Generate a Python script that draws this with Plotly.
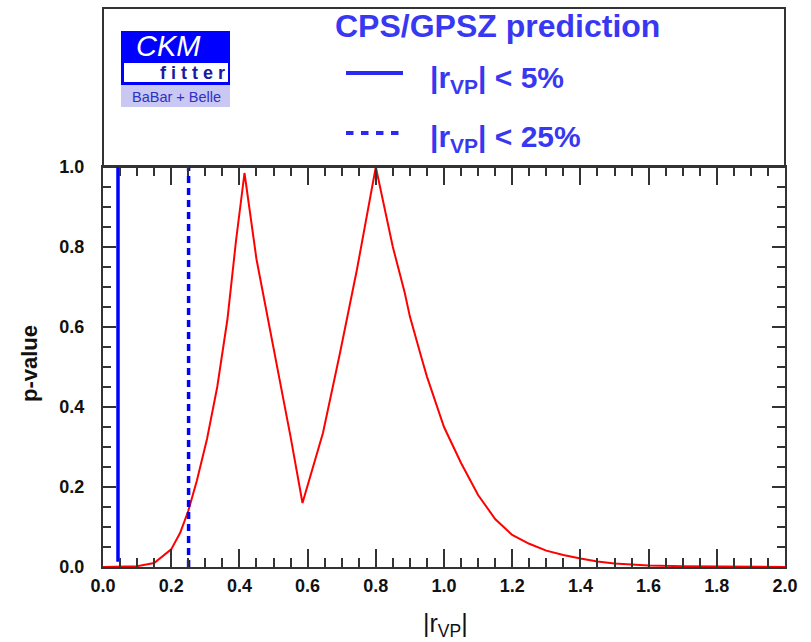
import plotly.graph_objects as go

# ---- data ----
r_vals = [0.0, 0.05, 0.10, 0.15, 0.20, 0.226, 0.25, 0.275, 0.305, 0.335, 0.365, 0.39, 0.415,
          0.45, 0.50, 0.55, 0.585, 0.645, 0.695, 0.745, 0.80,
          0.85, 0.885, 0.90, 0.935, 0.95, 1.0, 1.05, 1.10, 1.15, 1.20, 1.25, 1.30, 1.35,
          1.40, 1.45, 1.50, 1.60, 1.70, 1.80, 1.90, 2.0]
p_vals = [0.0, 0.0005, 0.002, 0.01, 0.044, 0.085, 0.14, 0.215, 0.32, 0.45, 0.62, 0.815, 0.985,
          0.77, 0.55, 0.326, 0.16, 0.335, 0.535, 0.745, 1.0,
          0.80, 0.685, 0.626, 0.52, 0.476, 0.35, 0.26, 0.18, 0.12, 0.08, 0.058, 0.041, 0.03,
          0.021, 0.014, 0.009, 0.004, 0.002, 0.001, 0.0006, 0.0003]

bound5_x = [0.044, 0.044]
bound5_y = [0.013, 1.0]
bound25_x = [0.251, 0.251]
bound25_y = [0.0, 1.0]

x_ticks = [0.0, 0.2, 0.4, 0.6, 0.8, 1.0, 1.2, 1.4, 1.6, 1.8, 2.0]
y_ticks = [0.0, 0.2, 0.4, 0.6, 0.8, 1.0]

title_text = "CPS/GPSZ prediction"
leg1_text = "|r<sub>VP</sub>| < 5%"
leg2_text = "|r<sub>VP</sub>| < 25%"

# ---- layout helpers (pixel -> paper) ----
W, H = 811, 642
L, R, T, B = 103, 26, 167, 75
PW, PH = W - L - R, H - T - B


def px(x):
    return (x - L) / PW


def py(y):
    return (H - B - y) / PH


FONT = "Liberation Sans, Arial, sans-serif"
AX = "#333333"
TXT_BLUE = "#3838f2"

fig = go.Figure()
fig.add_trace(go.Scatter(x=r_vals, y=p_vals, mode="lines",
                         line=dict(color="#ff0000", width=2), showlegend=False))
fig.add_trace(go.Scatter(x=bound5_x, y=bound5_y, mode="lines",
                         line=dict(color="#0000ff", width=3.5), showlegend=False))
fig.add_trace(go.Scatter(x=bound25_x, y=bound25_y, mode="lines",
                         line=dict(color="#0000ff", width=3.5, dash="7px,5px"), showlegend=False))

axis_common = dict(showgrid=False, zeroline=False, showline=True, linecolor=AX, linewidth=2,
                   mirror="allticks", ticks="inside", tickcolor=AX, tickwidth=2,
                   tickformat=".1f",
                   tickfont=dict(family=FONT, size=18, color="#111111", weight="bold"))

fig.update_xaxes(range=[0, 2], tickvals=x_ticks, ticklen=18,
                 minor=dict(dtick=0.05, ticks="inside", ticklen=9, tickcolor=AX, tickwidth=2),
                 ticklabelstandoff=1, **axis_common)
fig.update_yaxes(range=[0, 1], tickvals=y_ticks, ticklen=13,
                 minor=dict(dtick=0.05, ticks="inside", ticklen=8, tickcolor=AX, tickwidth=2),
                 ticklabelstandoff=13, **axis_common)

shapes = []
# upper frame box
shapes.append(dict(type="rect", xref="paper", yref="paper", x0=0, x1=1, y0=1, y1=py(8),
                   line=dict(color=AX, width=2), fillcolor="rgba(0,0,0,0)", layer="below"))
# logo
shapes.append(dict(type="rect", xref="paper", yref="paper", x0=px(121), x1=px(230), y0=py(85), y1=py(31),
                   line=dict(width=0), fillcolor="#0000ff"))
shapes.append(dict(type="rect", xref="paper", yref="paper", x0=px(124), x1=px(228), y0=py(82), y1=py(63),
                   line=dict(width=0), fillcolor="#ffffff"))
shapes.append(dict(type="rect", xref="paper", yref="paper", x0=px(121), x1=px(230), y0=py(107), y1=py(85),
                   line=dict(width=0), fillcolor="#c8c8f2"))
# legend sample lines
shapes.append(dict(type="line", xref="paper", yref="paper", x0=px(346), x1=px(403), y0=py(73), y1=py(73),
                   line=dict(color="#2a2af2", width=4)))
shapes.append(dict(type="line", xref="paper", yref="paper", x0=px(346), x1=px(399), y0=py(133), y1=py(133),
                   line=dict(color="#2a2af2", width=4, dash="7.5px,7.5px")))

ann = []
ann.append(dict(text="<i>CKM</i>", x=px(168), y=py(46), xref="paper", yref="paper", showarrow=False,
                font=dict(family=FONT, size=29, color="#ffffff"), xanchor="center", yanchor="middle"))
ann.append(dict(text="<b>f i t t e r</b>", x=px(192), y=py(73), xref="paper", yref="paper", showarrow=False,
                font=dict(family=FONT, size=18, color="#1a1aa0"), xanchor="center", yanchor="middle"))
ann.append(dict(text="BaBar + Belle", x=px(176), y=py(97), xref="paper", yref="paper", showarrow=False,
                font=dict(family=FONT, size=14.5, color="#3030c8"), xanchor="center", yanchor="middle"))
ann.append(dict(text="<b>" + title_text + "</b>", x=px(497), y=py(26), xref="paper", yref="paper",
                showarrow=False, font=dict(family=FONT, size=32, color=TXT_BLUE),
                xanchor="center", yanchor="middle"))
ann.append(dict(text="<b>" + leg1_text + "</b>", x=px(428), y=py(80), xref="paper", yref="paper",
                showarrow=False, font=dict(family=FONT, size=30, color=TXT_BLUE),
                xanchor="left", yanchor="middle"))
ann.append(dict(text="<b>" + leg2_text + "</b>", x=px(428), y=py(138), xref="paper", yref="paper",
                showarrow=False, font=dict(family=FONT, size=30, color=TXT_BLUE),
                xanchor="left", yanchor="middle"))
# axis titles
ann.append(dict(text="<b>p-value</b>", x=px(29), y=py(364), xref="paper", yref="paper", showarrow=False,
                textangle=-90, font=dict(family=FONT, size=22, color="#111111"),
                xanchor="center", yanchor="middle"))
ann.append(dict(text="|r<sub>VP</sub>|", x=px(445), y=py(625), xref="paper", yref="paper", showarrow=False,
                font=dict(family=FONT, size=25, color="#111111"),
                xanchor="center", yanchor="middle"))

fig.update_layout(width=W, height=H, margin=dict(l=L, r=R, t=T, b=B, autoexpand=False),
                  paper_bgcolor="#ffffff", plot_bgcolor="#ffffff",
                  shapes=shapes, annotations=ann, showlegend=False)

fig.write_html("out.html")
